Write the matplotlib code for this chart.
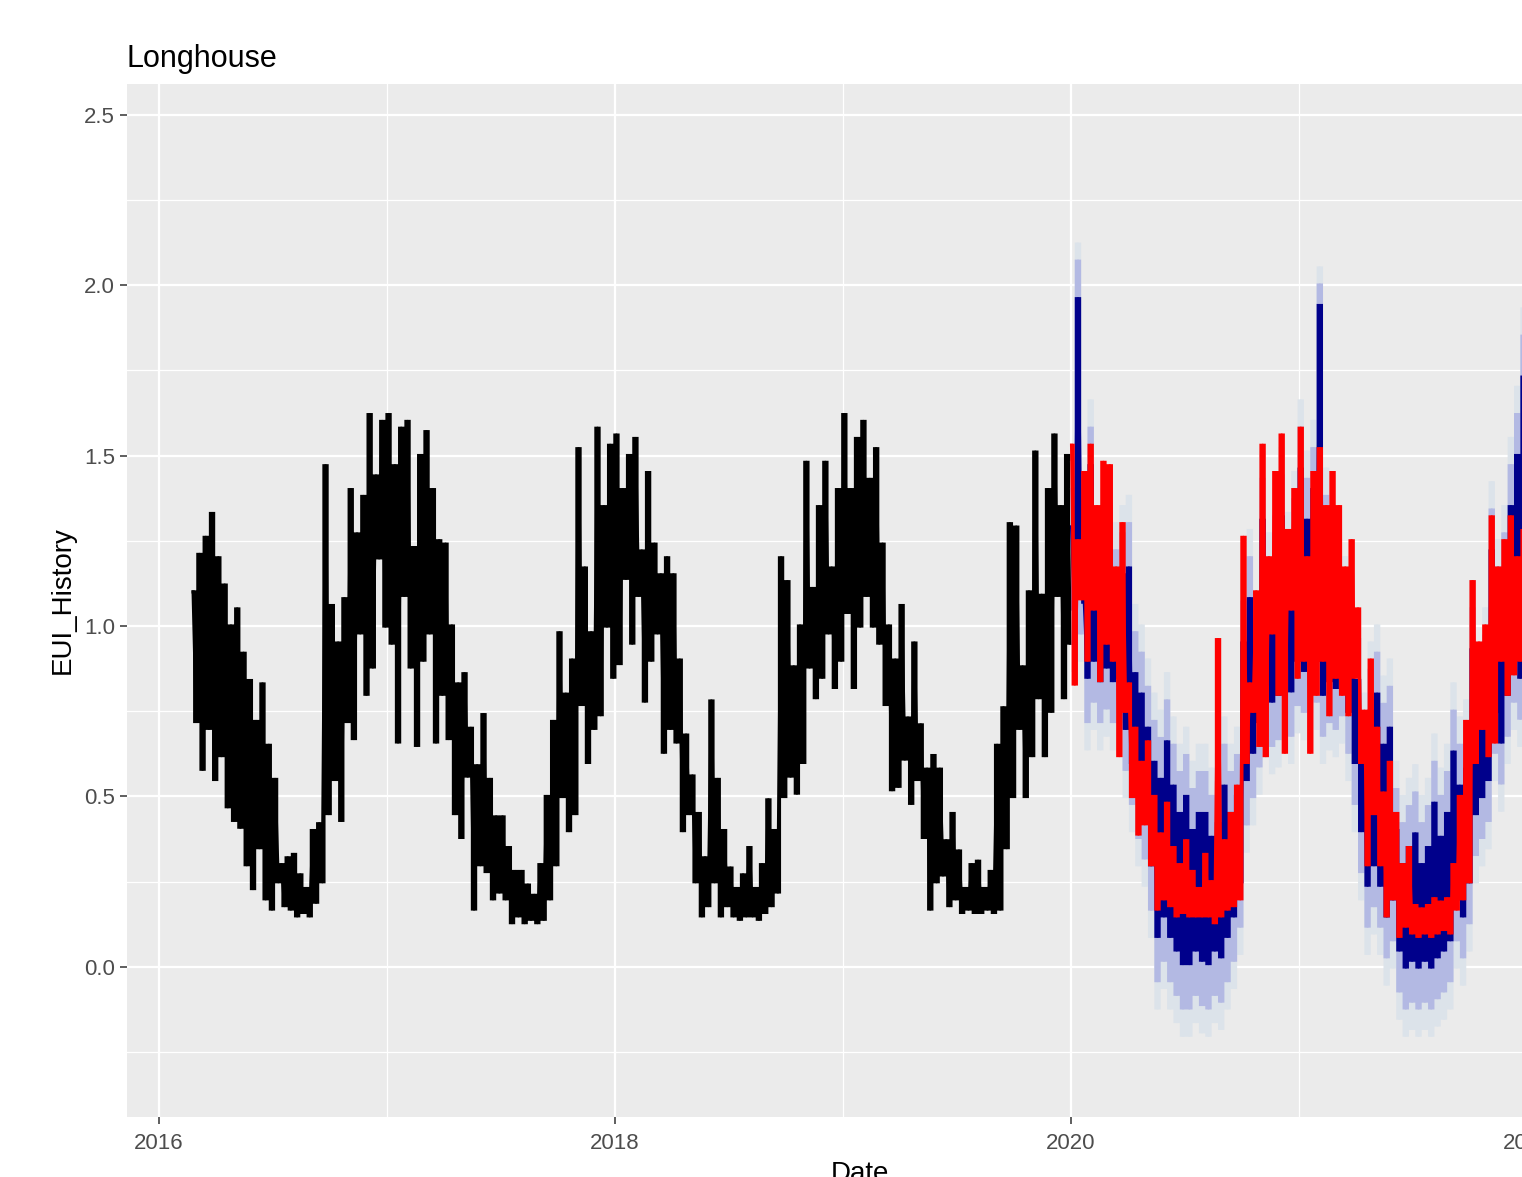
import matplotlib
matplotlib.use('Agg')
import matplotlib.pyplot as plt
import matplotlib.dates as mdates
import numpy as np
import pandas as pd

# EUI history, six readings per month (top / bottom of the daily swing)
hist_2016 = [1.10, 0.72,
             1.21, 0.58, 1.26, 0.70, 1.33, 0.55,
             1.20, 0.62, 1.12, 0.47, 1.00, 0.43,
             1.05, 0.41, 0.92, 0.30, 0.84, 0.23,
             0.72, 0.35, 0.83, 0.20, 0.65, 0.17,
             0.55, 0.25, 0.30, 0.18, 0.32, 0.17,
             0.33, 0.15, 0.27, 0.16, 0.23, 0.15,
             0.40, 0.19, 0.42, 0.25, 1.47, 0.45,
             1.06, 0.55, 0.95, 0.43, 1.08, 0.72,
             1.40, 0.67, 1.27, 0.98, 1.38, 0.80,
             1.62, 0.88, 1.44, 1.20, 1.60, 1.00]
hist_2017 = [1.62, 0.95, 1.47, 0.66, 1.58, 1.09,
             1.60, 0.88, 1.23, 0.65, 1.50, 0.90,
             1.57, 0.98, 1.40, 0.66, 1.25, 0.80,
             1.24, 0.67, 1.00, 0.45, 0.83, 0.38,
             0.86, 0.56, 0.70, 0.17, 0.59, 0.30,
             0.74, 0.28, 0.55, 0.20, 0.44, 0.22,
             0.44, 0.20, 0.35, 0.13, 0.28, 0.15,
             0.28, 0.13, 0.24, 0.14, 0.21, 0.13,
             0.30, 0.14, 0.50, 0.20, 0.72, 0.30,
             0.98, 0.50, 0.80, 0.40, 0.90, 0.45,
             1.52, 0.77, 1.17, 0.60, 0.98, 0.70,
             1.58, 0.74, 1.35, 1.00, 1.53, 0.85]
hist_2018 = [1.56, 0.89, 1.40, 1.14, 1.50, 0.95,
             1.55, 1.09, 1.22, 0.78, 1.45, 0.90,
             1.24, 0.98, 1.15, 0.63, 1.20, 0.70,
             1.15, 0.66, 0.90, 0.40, 0.68, 0.45,
             0.56, 0.25, 0.45, 0.15, 0.32, 0.18,
             0.78, 0.25, 0.55, 0.15, 0.40, 0.18,
             0.29, 0.15, 0.23, 0.14, 0.27, 0.15,
             0.35, 0.15, 0.23, 0.14, 0.30, 0.16,
             0.49, 0.18, 0.40, 0.22, 1.20, 0.50,
             1.13, 0.56, 0.88, 0.51, 1.00, 0.60,
             1.48, 0.88, 1.11, 0.79, 1.35, 0.85,
             1.48, 0.98, 1.17, 0.82, 1.40, 0.90]
hist_2019 = [1.62, 1.04, 1.40, 0.82, 1.55, 1.00,
             1.60, 1.09, 1.43, 1.00, 1.52, 0.95,
             1.24, 0.77, 1.00, 0.52, 0.90, 0.53,
             1.06, 0.61, 0.73, 0.48, 0.95, 0.55,
             0.71, 0.38, 0.58, 0.17, 0.62, 0.25,
             0.58, 0.27, 0.37, 0.18, 0.45, 0.20,
             0.34, 0.16, 0.23, 0.17, 0.30, 0.16,
             0.31, 0.16, 0.23, 0.17, 0.28, 0.16,
             0.65, 0.17, 0.76, 0.35, 1.30, 0.50,
             1.29, 0.70, 0.88, 0.50, 1.10, 0.62,
             1.51, 0.79, 1.09, 0.62, 1.40, 0.75,
             1.56, 1.09, 1.35, 0.79, 1.50, 0.95]

# actual values in the forecast period (red)
red_2020 = [1.53, 0.83, 1.25, 1.08, 1.45, 0.90,
            1.53, 1.05, 1.35, 0.84, 1.48, 0.95,
            1.47, 0.90, 1.17, 0.62, 1.30, 0.75,
            0.83, 0.50, 0.70, 0.39, 0.60, 0.42,
            0.66, 0.30, 0.50, 0.17, 0.39, 0.20,
            0.48, 0.18, 0.35, 0.15, 0.30, 0.16,
            0.37, 0.15, 0.28, 0.15, 0.23, 0.15,
            0.33, 0.15, 0.25, 0.13, 0.96, 0.15,
            0.37, 0.17, 0.45, 0.18, 0.53, 0.20,
            1.26, 0.60, 0.83, 0.75, 1.10, 0.65,
            1.53, 0.62, 1.20, 0.98, 1.45, 0.80,
            1.56, 0.63, 1.28, 1.05, 1.40, 0.85]
red_2021 = [1.58, 0.90, 1.20, 0.63, 1.45, 0.80,
            1.52, 0.90, 1.35, 0.74, 1.45, 0.85,
            1.35, 0.80, 1.17, 0.74, 1.25, 0.85,
            1.05, 0.60, 0.75, 0.30, 0.90, 0.45,
            0.70, 0.30, 0.51, 0.15, 0.60, 0.20,
            0.45, 0.09, 0.30, 0.12, 0.35, 0.10,
            0.18, 0.09, 0.17, 0.10, 0.18, 0.09,
            0.20, 0.10, 0.19, 0.11, 0.20, 0.10,
            0.30, 0.17, 0.50, 0.20, 0.72, 0.25,
            1.13, 0.60, 0.95, 0.70, 1.00, 0.62,
            1.32, 0.66, 1.17, 0.90, 1.25, 0.80,
            1.32, 0.86, 1.20, 0.90, 1.28, 0.95]

# predicted values (navy)
navy_2020 = [1.29, 1.05, 1.96, 1.10, 1.07, 0.85,
             1.47, 0.90, 1.08, 0.84, 1.20, 0.88,
             1.22, 0.84, 1.10, 0.85, 1.15, 0.70,
             1.17, 0.60, 0.86, 0.51, 0.80, 0.45,
             0.70, 0.30, 0.60, 0.09, 0.55, 0.15,
             0.66, 0.09, 0.53, 0.05, 0.45, 0.01,
             0.50, 0.01, 0.40, 0.05, 0.45, 0.02,
             0.45, 0.01, 0.38, 0.05, 0.42, 0.03,
             0.53, 0.09, 0.45, 0.15, 0.50, 0.25,
             0.95, 0.55, 1.08, 0.63, 0.90, 0.72,
             1.31, 0.83, 1.07, 0.78, 1.20, 0.80,
             1.32, 0.98, 1.13, 0.81, 1.25, 0.90]
navy_2021 = [1.46, 0.87, 1.31, 0.95, 1.40, 0.90,
             1.94, 0.80, 1.26, 0.84, 1.13, 0.82,
             1.05, 0.86, 1.00, 0.75, 0.95, 0.60,
             0.84, 0.40, 0.60, 0.24, 0.75, 0.30,
             0.80, 0.24, 0.65, 0.15, 0.70, 0.20,
             0.40, 0.05, 0.30, 0.00, 0.35, 0.02,
             0.39, 0.00, 0.30, 0.02, 0.35, 0.00,
             0.48, 0.03, 0.38, 0.05, 0.45, 0.08,
             0.63, 0.20, 0.53, 0.15, 0.58, 0.25,
             0.93, 0.45, 0.75, 0.50, 0.85, 0.55,
             1.22, 0.75, 1.05, 0.66, 1.15, 0.80,
             1.35, 0.90, 1.50, 0.85, 1.73, 1.20]

# 80% interval swing
band80_2020 = [1.40, 0.95, 2.07, 0.98, 1.20, 0.72,
               1.58, 0.78, 1.20, 0.72, 1.32, 0.76,
               1.35, 0.72, 1.22, 0.72, 1.27, 0.58,
               1.30, 0.48, 0.98, 0.38, 0.92, 0.32,
               0.82, 0.17, 0.72, -0.04, 0.67, 0.02,
               0.78, -0.04, 0.65, -0.08, 0.57, -0.12,
               0.62, -0.12, 0.52, -0.08, 0.57, -0.11,
               0.57, -0.12, 0.50, -0.08, 0.54, -0.10,
               0.65, -0.04, 0.57, 0.02, 0.62, 0.12,
               1.07, 0.42, 1.20, 0.50, 1.02, 0.59,
               1.43, 0.70, 1.19, 0.65, 1.32, 0.67,
               1.44, 0.85, 1.25, 0.68, 1.37, 0.77]
band80_2021 = [1.58, 0.75, 1.43, 0.83, 1.52, 0.78,
               2.00, 0.68, 1.38, 0.72, 1.25, 0.70,
               1.17, 0.74, 1.12, 0.63, 1.07, 0.48,
               0.96, 0.28, 0.72, 0.12, 0.87, 0.18,
               0.92, 0.12, 0.77, 0.03, 0.82, 0.08,
               0.52, -0.07, 0.42, -0.12, 0.47, -0.10,
               0.51, -0.12, 0.42, -0.10, 0.47, -0.12,
               0.60, -0.09, 0.50, -0.07, 0.57, -0.04,
               0.75, 0.08, 0.65, 0.03, 0.70, 0.13,
               1.05, 0.33, 0.87, 0.38, 0.97, 0.43,
               1.34, 0.63, 1.17, 0.54, 1.27, 0.68,
               1.47, 0.78, 1.62, 0.73, 1.85, 1.08]

# 95% interval swing
band95_2020 = [1.48, 0.87, 2.12, 0.90, 1.28, 0.64,
               1.66, 0.70, 1.28, 0.64, 1.40, 0.68,
               1.43, 0.64, 1.30, 0.64, 1.35, 0.50,
               1.38, 0.40, 1.06, 0.30, 1.00, 0.24,
               0.90, 0.09, 0.80, -0.12, 0.75, -0.06,
               0.86, -0.12, 0.73, -0.16, 0.65, -0.20,
               0.70, -0.20, 0.60, -0.16, 0.65, -0.19,
               0.65, -0.20, 0.58, -0.16, 0.62, -0.18,
               0.73, -0.12, 0.65, -0.06, 0.70, 0.04,
               1.15, 0.34, 1.28, 0.42, 1.10, 0.51,
               1.51, 0.62, 1.27, 0.57, 1.40, 0.59,
               1.52, 0.77, 1.33, 0.60, 1.45, 0.69]
band95_2021 = [1.66, 0.67, 1.51, 0.75, 1.60, 0.70,
               2.05, 0.60, 1.46, 0.64, 1.33, 0.62,
               1.25, 0.66, 1.20, 0.55, 1.15, 0.40,
               1.04, 0.20, 0.80, 0.04, 0.95, 0.10,
               1.00, 0.04, 0.85, -0.05, 0.90, 0.00,
               0.60, -0.15, 0.50, -0.20, 0.55, -0.18,
               0.59, -0.20, 0.50, -0.18, 0.55, -0.20,
               0.68, -0.17, 0.58, -0.15, 0.65, -0.12,
               0.83, 0.00, 0.73, -0.05, 0.78, 0.05,
               1.13, 0.25, 0.95, 0.30, 1.05, 0.35,
               1.42, 0.55, 1.25, 0.46, 1.35, 0.60,
               1.55, 0.70, 1.70, 0.65, 1.93, 1.00]

y_ticks = [0.0, 0.5, 1.0, 1.5, 2.0, 2.5]
y_tick_labels = ['0.0', '0.5', '1.0', '1.5', '2.0', '2.5']


def spread(start, end, vals):
    # readings spread evenly over the stretch they were read from
    return pd.date_range(start, end, periods=len(vals))


hist_dates = np.concatenate([spread('2016-02-25', '2016-12-29', hist_2016),
                             spread('2017-01-03', '2017-12-29', hist_2017),
                             spread('2018-01-03', '2018-12-29', hist_2018),
                             spread('2019-01-03', '2019-12-31', hist_2019)])
hist_vals = hist_2016 + hist_2017 + hist_2018 + hist_2019

fc_dates = np.concatenate([spread('2020-01-02', '2020-12-29', red_2020),
                           spread('2021-01-03', '2021-12-31', red_2021)])

plt.rcParams['font.family'] = ['Liberation Sans', 'DejaVu Sans']

fig = plt.figure(figsize=(15.22, 11.77), dpi=100)
# panel runs past the right edge of the picture, like the cropped original
ax = fig.add_axes([0.0834, 0.051, 0.9632, 0.8777])
ax.set_facecolor('#ebebeb')


def swing(dates, vals, color, z):
    # daily swings: vertical strokes plus the zigzag between them, so the
    # dense part reads as one solid mass like in the original
    ax.plot(dates, vals, color=color, lw=2.3, drawstyle='steps-mid',
            snap=False, solid_joinstyle='miter', zorder=z)
    ax.plot(dates, vals, color=color, lw=2.3, snap=False, zorder=z)


swing(hist_dates, hist_vals, 'black', 3)
swing(fc_dates, band95_2020 + band95_2021, '#dce3ea', 3)
swing(fc_dates, band80_2020 + band80_2021, '#b3b9e3', 4)
swing(fc_dates, navy_2020 + navy_2021, '#00008b', 5)
swing(fc_dates, red_2020 + red_2021, '#ff0000', 6)

ax.set_xlim(pd.Timestamp('2015-11-11'), pd.Timestamp('2022-04-16'))
ax.set_ylim(-0.44, 2.59)

ax.xaxis.set_major_locator(mdates.YearLocator(2))
ax.xaxis.set_major_formatter(mdates.DateFormatter('%Y'))
ax.xaxis.set_minor_locator(mdates.YearLocator(1))
ax.set_yticks(y_ticks)
ax.set_yticklabels(y_tick_labels)
ax.set_yticks(np.arange(-0.25, 2.6, 0.5), minor=True)

ax.grid(which='major', color='white', lw=1.6, zorder=0)
ax.grid(which='minor', color='white', lw=0.9, zorder=0)
ax.set_axisbelow(True)
for s in ax.spines.values():
    s.set_visible(False)

ax.tick_params(which='major', length=5, width=1.1, color='#333333',
               labelcolor='#4d4d4d', labelsize=16, pad=3.5)
ax.tick_params(axis='x', which='major', pad=6.5)
ax.tick_params(which='minor', length=0)

ax.set_xlabel('Date', fontsize=20, color='black', labelpad=5)
ax.set_ylabel('EUI_History', fontsize=20, color='black', labelpad=6)
ax.set_title('Longhouse', fontsize=22, loc='left', color='black', pad=12)

fig.savefig('out.png', dpi=100)
plt.close(fig)
